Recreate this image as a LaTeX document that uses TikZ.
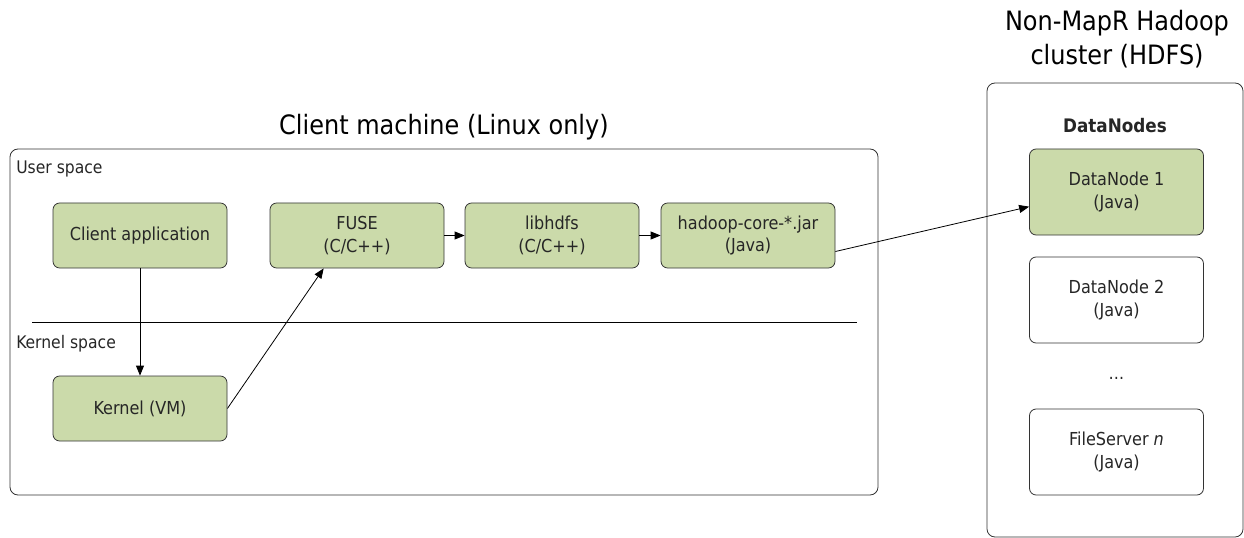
\documentclass[tikz,border=0pt]{standalone}
\usepackage{fontspec}
\setmainfont{DejaVu Sans Condensed}
\usetikzlibrary{arrows.meta}
\definecolor{boxgreen}{HTML}{CBDAAA}
\definecolor{edge}{HTML}{333333}
\tikzset{
  x=0.75pt, y=-0.75pt,
  comp/.style={draw=edge, line width=0.6pt, rounded corners=5pt, fill=boxgreen, minimum width=130.5pt, minimum height=48.75pt, align=center, font=\fontsize{13.4}{17}\selectfont, inner sep=0pt, text=black!85},
  compw/.style={comp, fill=white, minimum height=64.5pt},
  compg/.style={comp, minimum height=64.5pt},
  frame/.style={draw=edge, line width=0.6pt, rounded corners=6pt},
  conn/.style={draw=black, line width=0.6pt, -{Triangle[length=7.5pt,width=6pt]}},
  lab/.style={font=\fontsize{13}{15}\selectfont, inner sep=0pt, text=black!85},
  title/.style={font=\fontsize{20}{25.5}\selectfont, inner sep=0pt, align=center},
}
\begin{document}
\begin{tikzpicture}
\useasboundingbox (0,0) rectangle (1244,538);
\begin{scope}
\clip (0,0) rectangle (1244,538);
\draw[frame] (10,149) rectangle (878,495);
\draw[frame] (987,83) rectangle (1243,537);
\end{scope}
\node[title] (t1) at (444,127) {Client machine (Linux only)};
\node[title] (t2) at (1117,39) {Non-MapR Hadoop\\cluster (HDFS)};
\node[lab, anchor=west] (us) at (16,169) {User space};
\node[lab, anchor=west] (ks) at (16,344) {Kernel space};
\coordinate (hl) at (32,322);
\coordinate (hr) at (857,322);
\draw[line width=0.6pt] (hl) -- (hr);
\node[lab, font=\fontsize{14}{16}\selectfont\bfseries] (dn) at (1115,126) {DataNodes};
% components
\node[comp] (app) at (140,235.5) {Client application};
\node[comp] (fuse) at (357,235.5) {FUSE\\(C/C++)};
\node[comp] (lib) at (552,235.5) {libhdfs\\(C/C++)};
\node[comp] (jar) at (748,235.5) {hadoop-core-*.jar\\(Java)};
\node[comp] (kern) at (140,408.5) {Kernel (VM)};
\node[compg] (d1) at (1116.5,192) {DataNode 1\\(Java)};
\node[compw] (d2) at (1116.5,300) {DataNode 2\\(Java)};
\node[lab] (dots) at (1116.5,378) {\dots};
\node[compw] (dn3) at (1116.5,452) {FileServer \textit{n}\\(Java)};
% connectors
\draw[conn] (app.south) -- (kern.north);
\draw[conn] (kern.east) -- ([xshift=-25]fuse.south);
\draw[conn] (fuse) -- (lib);
\draw[conn] (lib) -- (jar);
\draw[conn] ([yshift=-12]jar.east) -- ([yshift=-11]d1.west);
\end{tikzpicture}
\end{document}
